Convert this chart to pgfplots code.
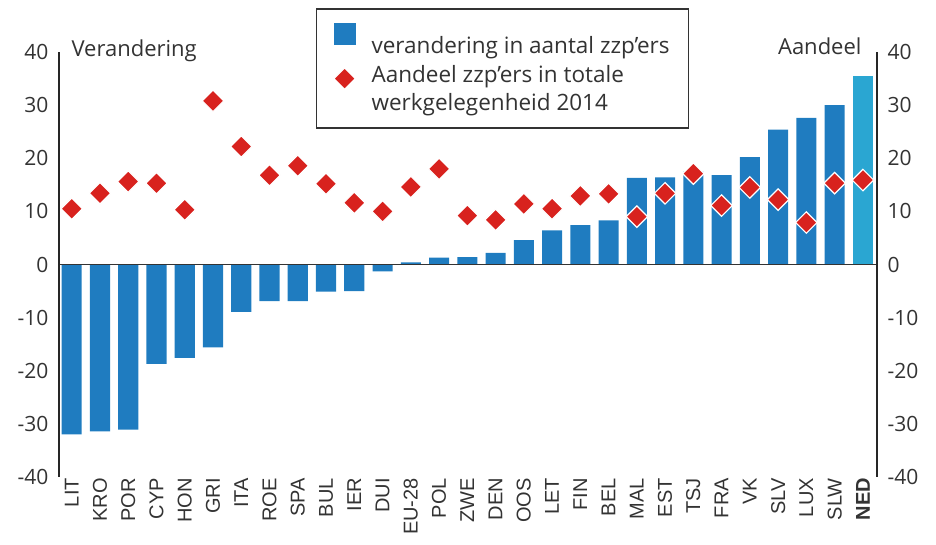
\documentclass[border=0pt]{standalone}
\usepackage{fontspec}
\setmainfont{Open Sans}
\newfontfamily\labfont{Liberation Sans}
\usepackage{pgfplots}
\usepackage{pgfplotstable}
\pgfplotsset{compat=1.18}

\definecolor{barblue}{HTML}{1F7CC0}
\definecolor{nedblue}{HTML}{2AA6D2}
\definecolor{dred}{HTML}{D8221E}
\definecolor{txt}{HTML}{333333}

\pgfplotsset{
  marklegend/.style={legend image code/.code={%
    \draw[mark repeat=2,mark phase=2,##1] plot coordinates {(0pt,10pt)(11pt,10pt)(22pt,10pt)};}},
  barlegend/.style={legend image code/.code={%
    \fill[barblue] (0pt,1pt) rectangle (22pt,23pt);}},
}

% verandering in aantal zzp'ers / aandeel zzp'ers in totale werkgelegenheid 2014
\pgfplotstableread{
idx ver aan
0  -32.0 10.5
1  -31.4 13.4
2  -31.1 15.6
3  -18.7 15.3
4  -17.6 10.3
5  -15.6 30.8
6   -8.9 22.2
7   -6.9 16.8
8   -6.9 18.6
9   -5.1 15.2
10  -5.0 11.6
11  -1.3 10.0
12   0.4 14.6
13   1.3 18.0
14   1.4  9.2
15   2.2  8.4
16   4.6 11.4
17   6.4 10.5
18   7.4 12.9
19   8.3 13.3
20  16.3  9.0
21  16.4 13.4
22  17.5 17.1
23  16.8 11.1
24  20.2 14.5
25  25.4 12.2
26  27.6  7.9
27  30.0 15.3
28  35.5 15.9
}\data

\begin{document}
\begin{tikzpicture}[x=1pt,y=1pt]
\begin{axis}[
  scale only axis,
  width=818pt, height=425pt,
  at={(0,0)}, anchor=south west,
  xmin=-0.45, xmax=28.5,
  ymin=-40, ymax=40,
  axis line style={draw=none},
  major tick length=0pt,
  xtick={0,...,28},
  xticklabels={LIT,KRO,POR,CYP,HON,GRI,ITA,ROE,SPA,BUL,IER,DUI,EU-28,POL,ZWE,DEN,OOS,LET,FIN,BEL,MAL,EST,TSJ,FRA,VK,SLV,LUX,SLW,\textbf{NED}},
  xticklabel style={font=\labfont\fontsize{20}{22}\selectfont, text=txt, rotate=90, anchor=east, inner sep=1pt},
  ytick={-40,-30,...,40},
  yticklabels={-40,-30,-20,-10,0,10,20,30,40},
  yticklabel style={font=\fontsize{21}{24}\selectfont, text=txt, xshift=-7pt},
  legend cell align=left,
  legend style={at={(0.314,1.103)}, anchor=north west, draw=txt, line width=1.5pt,
    font=\fontsize{22.5}{28}\selectfont, text=txt,
    nodes={align=left, line width=0.4pt},
    inner xsep=17pt, inner ysep=14pt, row sep=6pt, column sep=14pt},
  clip=false,
]
\addplot[ybar, bar width=0.71, bar shift=0pt, fill=barblue, draw=none,
  skip coords between index={28}{29}, barlegend]
  table[x=idx, y=ver] {\data};
\addlegendentry{verandering in aantal zzp'ers}
\addplot[ybar, bar width=0.71, bar shift=0pt, fill=nedblue, draw=none,
  skip coords between index={0}{28}, forget plot]
  table[x=idx, y=ver] {\data};
\draw[txt, line width=1pt] (axis cs:-0.45,0) -- (axis cs:28.5,0);
\addplot[only marks, mark=square*, mark size=7.6pt,
  mark options={rotate=45, fill=dred, draw=white, line width=1.2pt}, marklegend]
  table[x=idx, y=aan] {\data};
\addlegendentry{Aandeel zzp'ers in totale\\werkgelegenheid 2014}
\draw[black!85, line width=1.2pt] (rel axis cs:0,0) -- (rel axis cs:0,1);
\draw[black!85, line width=1.2pt] (rel axis cs:1,0) -- (rel axis cs:1,1);
\end{axis}
\begin{axis}[
  scale only axis,
  width=818pt, height=425pt,
  at={(0,0)}, anchor=south west,
  xmin=-0.45, xmax=28.5,
  ymin=-40, ymax=40,
  axis line style={draw=none},
  major tick length=0pt,
  xtick=\empty,
  ytick={-40,-30,...,40},
  yticklabels={-40,-30,-20,-10,0,10,20,30,40},
  ytick pos=right, yticklabel pos=right,
  yticklabel style={font=\fontsize{21}{24}\selectfont, text=txt, xshift=7pt},
]
\end{axis}
\node[anchor=base west, text=txt, font=\fontsize{22}{26}\selectfont] at (9,420) {Verandering};
\node[anchor=base east, text=txt, font=\fontsize{22}{26}\selectfont] at (806,422) {Aandeel};
\pgfresetboundingbox
\path (-59,-68) rectangle (877,477);
\end{tikzpicture}
\end{document}
